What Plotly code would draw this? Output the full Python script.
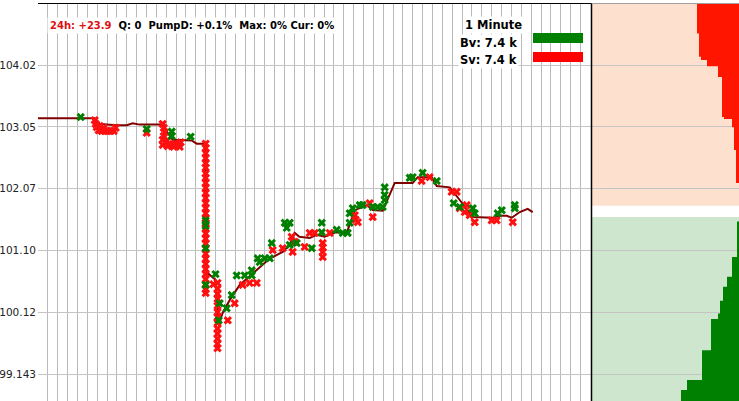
import plotly.graph_objects as go

# ---------------- data ----------------
# price line (minute index, price)
line_t = [0.0, 5.75, 6.26, 7.98, 9.0, 9.6, 10.3, 12.54, 13.66, 15.58, 16.09, 17.0, 17.1, 18.0, 18.32,
          18.73, 19.44, 20.45, 21.26, 22.18, 23.29, 23.8, 24.81, 25.5, 26.03, 26.5, 27.55, 28.26, 29.07,
          30.09, 31.3, 32.12, 33.33, 33.94, 34.95, 36.17, 37.99, 38.5, 39.92, 40.43, 41.75, 42.76, 44.08,
          46.11, 46.82, 47.53, 48.04, 48.85, 49.65, 50.16]
line_p = [103.18, 103.18, 103.09, 103.07, 103.07, 103.10, 103.08, 103.08, 102.84, 102.83, 102.78, 102.78,
          100.75, 100.63, 99.92, 100.11, 100.31, 100.55, 100.66, 100.78, 100.94, 100.99, 101.07, 101.18,
          101.37, 101.31, 101.29, 101.34, 101.31, 101.38, 101.37, 101.73, 101.81, 101.73, 101.72, 102.16,
          102.16, 102.25, 102.25, 102.11, 102.09, 101.89, 101.62, 101.61, 101.64, 101.64, 101.61, 101.70,
          101.75, 101.70]

# sell trades (red x)
sell_t = [5.75, 5.85, 5.95, 6.15, 6.26, 6.46, 6.66, 6.76, 7.07, 7.37, 7.68, 7.88,
          11.02,
          12.64, 12.75, 12.85, 12.75, 12.64, 12.64, 13.05, 13.35, 13.66, 13.96, 14.27, 14.47, 13.15, 13.76, 14.37,
          17.0, 17.0, 17.0, 17.0, 17.0, 17.0, 17.0, 17.0, 17.0, 17.0, 17.0, 17.0, 17.0, 17.0, 17.0, 17.0,
          17.0, 17.0, 17.0, 17.0, 17.0, 17.0, 17.0, 17.0, 17.0, 17.0, 17.0, 17.0, 17.0, 17.0, 17.0,
          18.2, 18.2, 18.2, 18.2, 18.2, 18.2, 18.2, 18.2, 18.2, 18.2, 18.2, 18.2, 18.2, 17.8,
          19.24, 19.94, 20.75, 21.46, 22.18, 23.8, 24.81, 25.72, 26.03, 25.82, 27.04, 27.55, 28.06,
          28.87, 28.87, 28.87, 28.87, 29.58, 32.12, 32.2, 32.42, 33.63, 33.94, 38.9, 39.71, 41.94, 42.45,
          42.76, 43.27, 43.77, 43.47, 44.28, 46.0, 46.5, 48.14]
sell_p = [103.15, 103.09, 103.04, 102.99, 103.06, 102.98, 103.03, 102.98, 102.98, 102.98, 102.98, 103.03,
          102.95,
          103.09, 103.03, 102.96, 102.90, 102.84, 102.76, 102.82, 102.77, 102.77, 102.77, 102.77, 102.80, 102.74, 102.73, 102.73,
          102.78, 102.71, 102.63, 102.55, 102.47, 102.40, 102.31, 102.24, 102.16, 102.08, 102.00, 101.92,
          101.84, 101.76, 101.68, 101.60, 101.52, 101.44, 101.36, 101.28, 101.20, 101.12, 101.04, 100.96,
          100.88, 100.80, 100.72, 100.64, 100.56, 100.48, 100.42,
          100.58, 100.49, 100.41, 100.33, 100.22, 100.12, 100.04, 99.95, 99.86, 99.78, 99.70, 99.62, 99.55, 100.56,
          99.99, 100.26, 100.55, 100.58, 100.58, 101.10, 101.13, 101.31, 101.23, 101.07, 101.15, 101.37, 101.37,
          101.21, 101.14, 101.07, 100.99, 101.37, 101.65, 101.58, 101.54, 101.84, 101.62, 102.19, 102.25, 102.02, 102.02,
          101.76, 101.70, 101.65, 101.81, 101.54, 101.57, 101.57, 101.54]

# buy trades (green x)
buy_t = [4.33, 11.02, 13.56, 13.56, 15.48, 17.0, 17.0, 17.0, 17.0, 18.0, 18.42, 18.32, 19.13, 19.64,
         20.15, 20.96, 21.67, 21.67, 22.28, 22.48, 22.99, 23.5, 23.7, 25.02, 25.52, 25.22, 25.52, 26.23,
         27.76, 28.77, 28.77, 30.29, 30.9, 31.4, 31.6, 31.6, 31.91, 32.62, 32.92, 33.94, 34.44, 34.95,
         35.15, 35.15, 35.15, 37.69, 37.99, 39.0, 40.43, 42.15, 42.76, 44.08, 44.28, 46.61, 47.02, 48.34, 48.34]
buy_p = [103.20, 103.01, 102.97, 102.90, 102.89, 101.57, 101.48, 101.13, 100.55, 100.72, 100.26, 99.99, 100.18, 100.39,
         100.70, 100.70, 100.78, 100.70, 100.97, 100.91, 100.97, 100.97, 101.21, 101.53, 101.53, 101.45, 101.18, 101.21,
         101.13, 101.53, 101.38, 101.42, 101.37, 101.37, 101.53, 101.68, 101.76, 101.81, 101.81, 101.78, 101.78, 101.78,
         102.09, 101.97, 101.89, 102.24, 102.25, 102.32, 102.19, 101.84, 101.78, 101.76, 101.68, 101.68, 101.73, 101.81, 101.76]

# order book depth (price level, cumulative volume)
ask_p = [105.05, 104.52, 104.15, 104.10, 104.00, 103.83, 103.20, 103.17, 103.04, 102.68, 102.16]
ask_v = [42, 40, 38, 32, 21, 17, 15, 7, 5, 3, 0]
bid_p = [101.55, 100.99, 100.68, 100.52, 100.30, 100.10, 100.01, 99.52, 99.05, 98.89, 98.60]
bid_v = [2, 7, 12, 16, 19, 21, 28, 37, 52, 58, 58]
best_ask = 101.80
best_bid = 101.62
depth_max = 147

y_tickvals = [104.02, 103.045, 102.07, 101.094, 100.119, 99.143]
y_ticktext = ["104.02", "103.05", "102.07", "101.10", "100.12", "99.143"]

header_24h = "24h: +23.9"
header_rest = "Q: 0\u00a0\u00a0PumpD: +0.1%\u00a0\u00a0Max: 0% Cur: 0%"
tf_label = "1 Minute"
bv_label = "Bv: 7.4 k"
sv_label = "Sv: 7.4 k"

# ---------------- layout helpers ----------------
W, H, L, T = 739, 401, 38, 3
def px_x(px):
    return (px - L) / (W - L)
def px_y(py):
    return (H - py) / (H - T)

GREEN = "#008000"
RED = "#ff1010"

fig = go.Figure()
fig.add_trace(go.Scatter(x=line_t, y=line_p, mode="lines",
                         line=dict(color="#800000", width=2), hoverinfo="skip"))
fig.add_trace(go.Scatter(x=sell_t, y=sell_p, mode="markers",
                         marker=dict(symbol="x", size=7.5, color=RED, line=dict(width=0))))
fig.add_trace(go.Scatter(x=buy_t, y=buy_p, mode="markers",
                         marker=dict(symbol="x", size=7.5, color=GREEN, line=dict(width=0))))
fig.add_trace(go.Scatter(x=ask_v, y=ask_p, xaxis="x2", yaxis="y", mode="lines",
                         line=dict(shape="vh", width=0, color="#ff1500"),
                         fill="tozerox", fillcolor="#ff1500"))
fig.add_trace(go.Scatter(x=bid_v, y=bid_p, xaxis="x2", yaxis="y", mode="lines",
                         line=dict(shape="vh", width=0, color=GREEN),
                         fill="tozerox", fillcolor=GREEN))

y_lo, y_hi = 98.717, 105.0
shapes = [
    dict(type="rect", xref="x2 domain", yref="y", x0=0, x1=1, y0=best_ask, y1=y_hi,
         fillcolor="#fde0cd", line=dict(width=0), layer="below"),
    dict(type="rect", xref="x2 domain", yref="y", x0=0, x1=1, y0=y_lo, y1=best_bid,
         fillcolor="#cde6cd", line=dict(width=0), layer="below"),
    dict(type="line", xref="paper", yref="paper", x0=0, x1=px_x(591.5), y0=px_y(3.5), y1=px_y(3.5),
         line=dict(color="black", width=1)),
    dict(type="line", xref="paper", yref="paper", x0=px_x(591.5), x1=px_x(591.5), y0=0, y1=px_y(3.5),
         line=dict(color="black", width=1.5)),
    dict(type="line", xref="paper", yref="paper", x0=px_x(592), x1=1, y0=px_y(3.5), y1=px_y(3.5),
         line=dict(color="#a0a0a0", width=1)),
    dict(type="rect", xref="paper", yref="paper", x0=px_x(533), x1=px_x(583), y0=px_y(43), y1=px_y(33),
         fillcolor=GREEN, line=dict(width=0)),
    dict(type="rect", xref="paper", yref="paper", x0=px_x(533), x1=px_x(583), y0=px_y(62), y1=px_y(52),
         fillcolor="#ff0000", line=dict(width=0)),
]

bold_font = dict(family="DejaVu Sans", size=10, color="black")
big_font = dict(family="DejaVu Sans", size=11.5, color="black")
annotations = [
    dict(xref="paper", yref="paper", x=px_x(47), y=px_y(25), xanchor="left", yanchor="middle",
         text=f"<b><span style='color:#dd1111'>{header_24h}</span>\u00a0\u00a0{header_rest}</b>",
         showarrow=False, font=bold_font, bgcolor="white", borderpad=2),
    dict(xref="paper", yref="paper", x=px_x(524), y=px_y(25), xanchor="right", yanchor="middle",
         text=f"<b>{tf_label}</b>", showarrow=False, font=big_font, bgcolor="white", borderpad=1),
    dict(xref="paper", yref="paper", x=px_x(458), y=px_y(42.5), xanchor="left", yanchor="middle",
         text=f"<b>{bv_label}</b>", showarrow=False, font=big_font, bgcolor="white", borderpad=1),
    dict(xref="paper", yref="paper", x=px_x(458), y=px_y(60.5), xanchor="left", yanchor="middle",
         text=f"<b>{sv_label}</b>", showarrow=False, font=big_font, bgcolor="white", borderpad=1),
]

fig.update_layout(
    width=W, height=H,
    margin=dict(l=L, r=0, t=T, b=0, autoexpand=False),
    paper_bgcolor="white", plot_bgcolor="white",
    showlegend=False,
    hovermode=False,
    xaxis=dict(domain=[0, px_x(591)], range=[0, 56.07], dtick=1, tick0=0,
               showgrid=True, gridcolor="#bababa", gridwidth=1, automargin=False,
               showticklabels=False, zeroline=False, showline=False, ticks=""),
    xaxis2=dict(domain=[px_x(592), 1], range=[depth_max, 0], anchor="y", automargin=False,
                showgrid=False, showticklabels=False, zeroline=False, showline=False, ticks=""),
    yaxis=dict(range=[y_lo, y_hi], tickvals=y_tickvals, ticktext=y_ticktext, automargin=False,
               showgrid=True, gridcolor="#c4c4c4", gridwidth=1, zeroline=False, showline=False,
               ticks="", ticklabelstandoff=1,
               tickfont=dict(family="DejaVu Sans", size=10.5, color="#222222")),
    shapes=shapes,
    annotations=annotations,
)

fig.write_html("out.html",
               config={"displayModeBar": False},
               post_script="document.body.style.margin='0';document.body.style.padding='0';"
                           "document.body.style.overflow='hidden';")
